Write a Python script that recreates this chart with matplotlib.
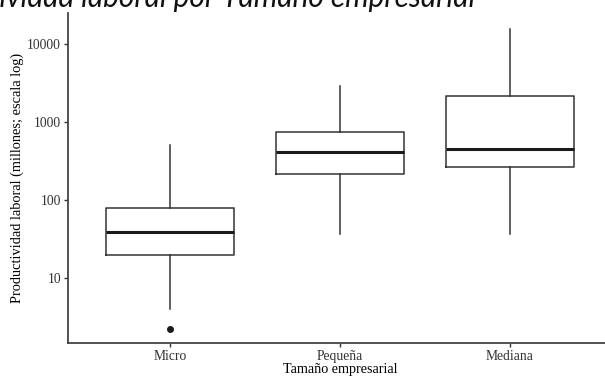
import matplotlib
matplotlib.use("Agg")
import matplotlib.pyplot as plt

# datos (millones, escala log)
categorias = ["Micro", "Pequeña", "Mediana"]
bigote_inf = [4.0, 36, 36.5]
q1 = [19.6, 213, 267]
mediana = [38.3, 417, 446]
q3 = [79.6, 743, 2140]
bigote_sup = [509, 2900, 15600]
atipicos = [[2.2], [], []]

titulo = "Productividad laboral por Tamaño empresarial"
etiqueta_x = "Tamaño empresarial"
etiqueta_y = "Productividad laboral (millones; escala log)"
marcas_y = [10, 100, 1000, 10000]

fig = plt.figure(figsize=(6.05, 3.77), dpi=100)
ax = fig.add_axes([68/605, 34/377, 544/605, 330/377])

stats = []
for i in range(len(categorias)):
    stats.append({"whislo": bigote_inf[i], "q1": q1[i], "med": mediana[i],
                  "q3": q3[i], "whishi": bigote_sup[i], "fliers": atipicos[i]})

ax.bxp(stats, positions=[1, 2, 3], widths=0.75, showcaps=False,
       boxprops=dict(color="#333333", linewidth=1.1),
       medianprops=dict(color="#1a1a1a", linewidth=2.2),
       whiskerprops=dict(color="#333333", linewidth=1.1),
       flierprops=dict(marker="o", markerfacecolor="#1a1a1a",
                       markeredgecolor="#1a1a1a", markersize=4))

ax.set_yscale("log")
ax.set_ylim(1.45, 25200)
ax.set_xlim(0.4, 3.6)
ax.set_yticks(marcas_y)
ax.set_yticklabels([str(v) for v in marcas_y])
ax.minorticks_off()
ax.set_xticks([1, 2, 3])
ax.set_xticklabels(categorias)

serif = "Liberation Serif"
for lab in ax.get_xticklabels() + ax.get_yticklabels():
    lab.set_fontfamily(serif)
    lab.set_fontsize(9.8)
    lab.set_color("#333333")
ax.tick_params(length=3, width=1, color="#333333", pad=2)
ax.set_xlabel(etiqueta_x, family=serif, fontsize=10.2, labelpad=0)
ax.set_ylabel(etiqueta_y, family=serif, fontsize=10.4, labelpad=2)

for s in ["top", "right"]:
    ax.spines[s].set_visible(False)
for s in ["left", "bottom"]:
    ax.spines[s].set_color("#444444")
    ax.spines[s].set_linewidth(1.3)

fig.text(475/605, 1 - 7/377, titulo, ha="right", va="baseline",
         family="Lato", style="italic", fontsize=21.5, color="#111111")

fig.savefig("out.png", dpi=100)
